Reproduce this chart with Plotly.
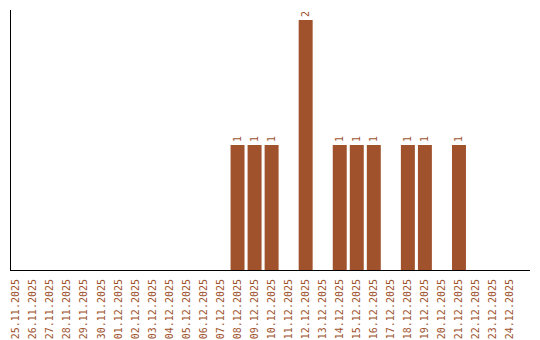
import plotly.graph_objects as go

dates = ["25.11.2025","26.11.2025","27.11.2025","28.11.2025","29.11.2025","30.11.2025",
         "01.12.2025","02.12.2025","03.12.2025","04.12.2025","05.12.2025","06.12.2025",
         "07.12.2025","08.12.2025","09.12.2025","10.12.2025","11.12.2025","12.12.2025",
         "13.12.2025","14.12.2025","15.12.2025","16.12.2025","17.12.2025","18.12.2025",
         "19.12.2025","20.12.2025","21.12.2025","22.12.2025","23.12.2025","24.12.2025"]
counts = [0,0,0,0,0,0,0,0,0,0,0,0,0,1,1,1,0,2,0,1,1,1,0,1,1,0,1,0,0,0]

color = "#A0522D"
font = "DejaVu Sans Mono"

labels = [str(c) if c > 0 else "" for c in counts]
xs = list(range(len(dates)))

fig = go.Figure(go.Bar(
    x=xs, y=counts, marker_color=color, marker_line_width=0,
    text=labels, textposition="outside", textangle=-90,
    textfont=dict(family=font, size=10, color=color),
    cliponaxis=False,
))
fig.update_layout(
    width=540, height=340,
    margin=dict(l=11, r=10, t=10, b=70, autoexpand=False),
    paper_bgcolor="white", plot_bgcolor="white",
    bargap=0.18, showlegend=False,
)
fig.update_xaxes(
    range=[-0.3, 30.17], tickmode="array", tickvals=xs, ticktext=dates,
    tickangle=-90, tickfont=dict(family=font, size=10, color=color),
    showline=True, linecolor="black", linewidth=1, showgrid=False,
    ticks="outside", ticklen=4, tickcolor="rgba(0,0,0,0)", zeroline=False,
    automargin=False,
)
fig.update_yaxes(
    range=[0, 2.08], showticklabels=False, showgrid=False, zeroline=False,
    showline=True, linecolor="black", linewidth=1, ticks="", automargin=False,
)
fig.write_html("out.html")
